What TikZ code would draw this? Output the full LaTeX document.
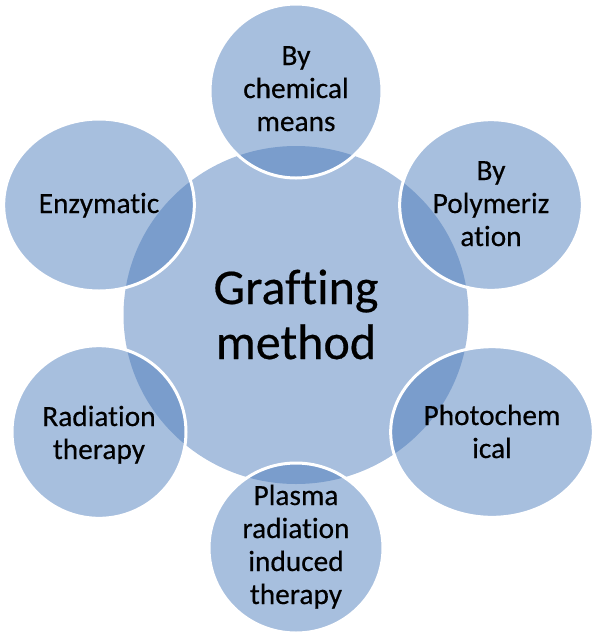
\documentclass[tikz,border=0pt]{standalone}
\usepackage{fontspec}
\setmainfont{Carlito}[Ligatures=CommonOff]
\newfontfamily\labfont{Carlito}[Ligatures=CommonOff, FakeBold=0.4]
\usetikzlibrary{shapes.geometric}
\definecolor{hub}{RGB}{168,191,222}
\definecolor{sat}{RGB}{72,121,186}
\newcommand{\mylines}[1]{\begin{tabular}[t]{@{}c@{}}#1\end{tabular}}
\tikzset{
  hubshape/.style={ellipse, fill=hub, inner sep=0pt},
  satshape/.style={ellipse, fill=sat, fill opacity=0.48, draw=white, draw opacity=1, line width=2.25pt, inner sep=0pt},
  sattext/.style={anchor=base, inner sep=0pt, text=black, font=\labfont\fontsize{22}{24.75}\selectfont},
  hubtext/.style={anchor=base, inner sep=0pt, text=black, font=\labfont\fontsize{37.5}{41.25}\selectfont},
}
\begin{document}
\begin{tikzpicture}[x=0.75pt, y=-0.75pt]
\useasboundingbox (0,0) rectangle (600,637);
\node[hubshape, minimum width=258.75pt, minimum height=253.5pt] (hub) at (296,315) {};
\node[satshape, minimum width=129pt, minimum height=130.5pt] (chem) at (296,91) {};
\node[satshape, minimum width=137pt, minimum height=128pt] (poly) at (491,205) {};
\node[satshape, minimum width=152pt, minimum height=128pt] (photo) at (492,432) {};
\node[satshape, minimum width=130.5pt, minimum height=127.5pt] (plasma) at (296,548) {};
\node[satshape, minimum width=130.5pt, minimum height=129.5pt] (radiation) at (99,432) {};
\node[satshape, minimum width=143pt, minimum height=129pt] (enzym) at (99,205) {};
\node[hubtext] (hubT) at (296,304) {\mylines{Grafting\\method}};
\node[sattext] (chemT) at (296,65) {\mylines{By\\chemical\\means}};
\node[sattext] (polyT) at (491,180) {\mylines{By\\Polymeriz\\ation}};
\node[sattext] (photoT) at (492,425) {\mylines{Photochem\\ical}};
\node[sattext] (plasmaT) at (296,505) {\mylines{Plasma\\radiation\\induced\\therapy}};
\node[sattext] (radT) at (99,426) {\mylines{Radiation\\therapy}};
\node[sattext] (enzT) at (99,213) {\mylines{Enzymatic}};
\end{tikzpicture}
\end{document}
